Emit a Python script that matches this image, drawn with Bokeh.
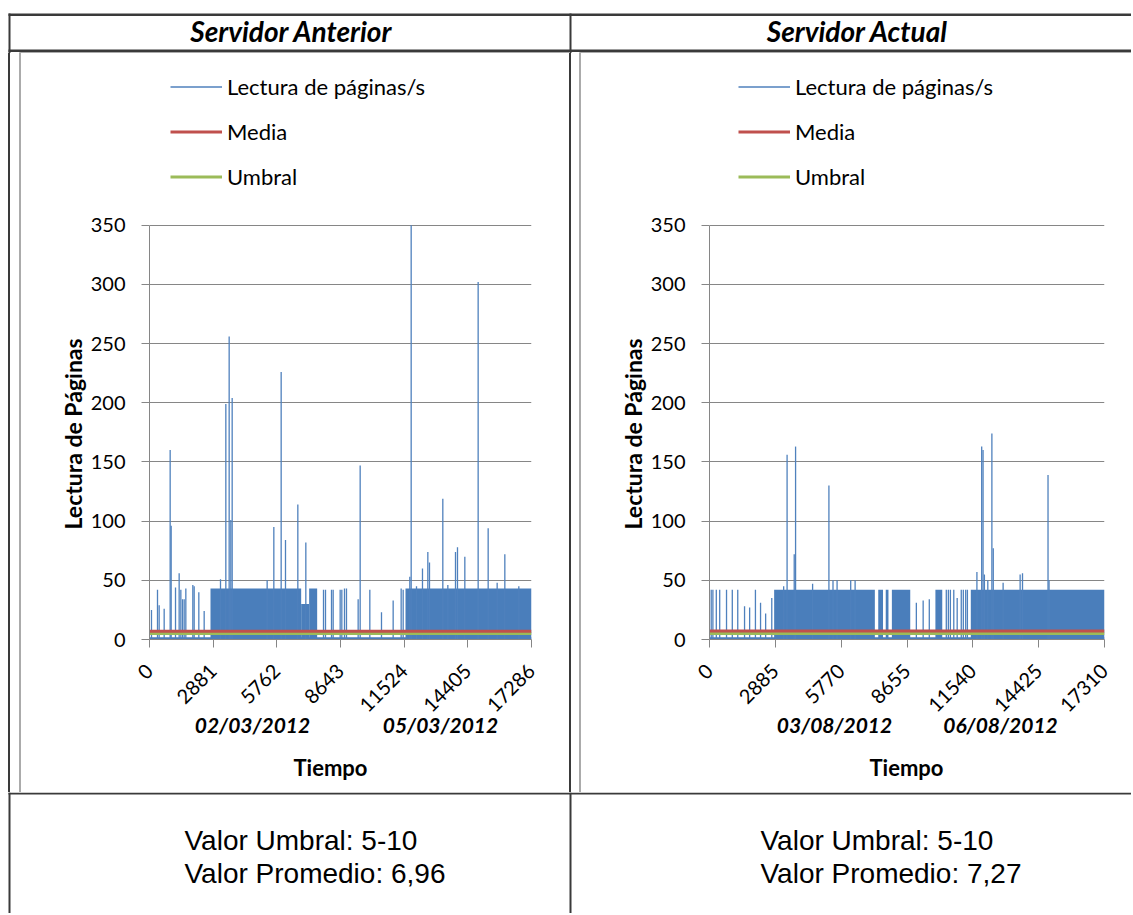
import math
from bokeh.plotting import figure
from bokeh.layouts import column, row
from bokeh.models import (Range1d, FixedTicker, Legend, LegendItem, LinearAxis, Spacer, Title)
from bokeh.core.properties import value
from bokeh.embed import file_html
from bokeh.resources import INLINE

# ---------------- data ----------------
titles = ["Servidor Anterior", "Servidor Actual"]
series_label = "Lectura de páginas/s"
mean_label = "Media"
umbral_label = "Umbral"
y_label = "Lectura de Páginas"
x_label = "Tiempo"
y_ticks = [0, 50, 100, 150, 200, 250, 300, 350]

# Servidor Anterior
ant_x_ticks = [0, 2881, 5762, 8643, 11524, 14405, 17286]
ant_dates = ["02/03/2012", "05/03/2012"]
ant_date_x = [4661, 13168]
ant_band_start = [2760, 6863, 7224, 11584]
ant_band_end = [6863, 7224, 7587, 17286]
ant_band_top = [43, 30, 43, 43]
ant_base_top = 2.0
ant_spike_x = [90, 362, 437, 664, 935, 980, 1177, 1342, 1418, 1493, 1569, 1644, 1961, 2021, 2232, 2474,
               3213, 3454, 3605, 3680, 3741, 5324, 5626, 5958, 6154, 6712, 7074,
               7874, 7964, 8236, 8311, 8628, 8703, 8824, 8914, 9442, 9533, 9970, 10498, 11026, 11388, 11479,
               11780, 11841, 12082, 12353, 12595, 12670, 13273, 13500, 13847, 13937, 14269, 14872, 15325,
               15732, 16079, 16712]
ant_spike_y = [25, 42, 29, 26, 160, 96, 44, 56, 42, 34, 34, 43, 46, 45, 40, 24,
               51, 199, 256, 101, 204, 50, 95, 226, 84, 114, 82,
               42, 42, 42, 42, 42, 42, 43, 43, 34, 147, 42, 23, 33, 43, 42,
               53, 350, 45, 60, 74, 65, 119, 46, 74, 78, 70, 302, 94, 48, 72, 45]
ant_mean = 6.96
ant_umbral = 5
ant_footer = ["Valor Umbral: 5-10", "Valor Promedio: 6,96"]

# Servidor Actual
act_x_ticks = [0, 2885, 5770, 8655, 11540, 14425, 17310]
act_dates = ["03/08/2012", "06/08/2012"]
act_date_x = [5478, 12752]
act_band_start = [2833, 7395, 7723, 7992, 9900, 11451]
act_band_end = [7246, 7604, 7843, 8797, 10200, 17310]
act_band_top = [42, 42, 42, 42, 42, 42]
act_base_top = 2.0
act_spike_x = [75, 149, 298, 447, 746, 999, 1238, 1536, 1759, 2013, 2237, 2460, 2729,
               3250, 3400, 3713, 3772, 4518, 5233, 5412, 5591, 6188, 6381,
               9065, 9363, 9632, 10377, 10467, 10556, 10705, 10854, 11033, 11123, 11227, 11302,
               11719, 11928, 11988, 12047, 12196, 12375, 12435, 12867, 13613, 13717, 14835, 14880]
act_spike_y = [42, 42, 42, 42, 42, 42, 42, 28, 27, 42, 31, 22, 35,
               45, 156, 72, 163, 47, 130, 50, 50, 50, 50,
               31, 33, 34, 42, 42, 42, 42, 35, 42, 42, 42, 42,
               57, 163, 160, 55, 50, 174, 77, 48, 55, 56, 139, 50]
act_mean = 7.27
act_umbral = 5
act_footer = ["Valor Umbral: 5-10", "Valor Promedio: 7,27"]

# ---------------- style / layout ----------------
DARK = "#3a3a3a"
GRAY_BORDER = "#ababab"
AXIS_GRAY = "#868686"
BLUE_FILL = "#4a7ebb"
BLUE_LINE = "#4f81bd"
RED = "#c0504d"
GREEN = "#9bbb59"
CAL = "Lato"

W = 1131
ROW_TOP, ROW_BOTTOM = 53, 792
ROW_H = ROW_BOTTOM - ROW_TOP
FRAME_TOP_PX, FRAME_BOTTOM_PX = 225, 640   # pixel rows of the 350 and 0 gridlines


def canvas(w, h, x0, x1, y0, y1):
    f = figure(width=w, height=h, x_range=Range1d(x0, x1), y_range=Range1d(y1, y0),
               output_backend="svg", toolbar_location=None, min_border=0,
               x_axis_location=None, y_axis_location=None)
    f.grid.visible = False
    f.outline_line_color = None
    f.background_fill_color = "white"
    f.border_fill_color = "white"
    return f


# header (page y 0..53)
hdr = canvas(W, ROW_TOP, 0, W, 0, ROW_TOP)
hdr.quad(left=[8, 8, 569, 8, 19, 579, 19, 579], right=[W, 10, 571, W, 569, W, 21, 581],
         top=[13, 13, 13, 49, 51.5, 51.5, 51.5, 51.5], bottom=[15.5, 53, 53, 51.5, 52.5, 52.5, 53, 53],
         fill_color=[DARK, DARK, DARK, DARK, GRAY_BORDER, GRAY_BORDER, GRAY_BORDER, GRAY_BORDER],
         line_color=None)
hdr.text(x=[291, 857], y=[30, 30], text=titles, text_align="center", text_baseline="middle",
         text_font=value(CAL), text_font_style="bold italic", text_font_size="28px", text_color="#000000")


def bar(w, color=None, h=ROW_H):
    if color is None:
        return Spacer(width=w, height=h)
    return Spacer(width=w, height=h, styles={"background-color": color})


def chart(width, min_left, min_right, x_ticks, band_s, band_e, band_t, base_top, sx, sy,
          mean, umbral, legend_x, dates, date_x, tiempo_offset):
    x_end = x_ticks[-1]
    y_top = y_ticks[-1] * (FRAME_BOTTOM_PX - ROW_TOP) / (FRAME_BOTTOM_PX - FRAME_TOP_PX)
    p = figure(width=width, height=ROW_H, x_range=Range1d(0, x_end), y_range=Range1d(0, y_top),
               output_backend="svg", toolbar_location=None,
               min_border_left=min_left, min_border_right=min_right,
               min_border_top=0, min_border_bottom=ROW_BOTTOM - FRAME_BOTTOM_PX)
    p.outline_line_color = None
    p.background_fill_color = "white"
    p.border_fill_color = "white"

    p.quad(left=[0], right=[x_end], bottom=[0], top=[base_top], fill_color=BLUE_FILL, line_color=None)
    p.quad(left=band_s, right=band_e, bottom=[0] * len(band_s), top=band_t,
           fill_color=BLUE_FILL, line_color=None)
    r_s = p.segment(x0=sx, y0=[0] * len(sx), x1=sx, y1=sy, line_color=BLUE_LINE, line_width=1.3)
    r_u = p.line(x=[0, x_end], y=[umbral, umbral], line_color=GREEN, line_width=3)
    r_m = p.line(x=[0, x_end], y=[mean, mean], line_color=RED, line_width=3)

    p.axis.axis_line_color = AXIS_GRAY
    p.axis.major_tick_line_color = AXIS_GRAY
    p.axis.major_tick_out = 8
    p.axis.major_tick_in = 0
    p.axis.minor_tick_line_color = None
    p.axis.major_label_text_font = CAL
    p.axis.major_label_text_font_size = "20px"
    p.axis.major_label_text_color = "#000000"
    p.xaxis.ticker = FixedTicker(ticks=x_ticks)
    p.yaxis.ticker = FixedTicker(ticks=y_ticks)
    p.yaxis.bounds = (y_ticks[0], y_ticks[-1])
    p.xaxis.major_label_orientation = math.pi / 4
    p.xaxis.major_label_standoff = 20
    p.yaxis.major_label_standoff = 16
    p.xgrid.visible = False
    p.ygrid.ticker = FixedTicker(ticks=y_ticks)
    p.ygrid.grid_line_color = AXIS_GRAY
    p.ygrid.grid_line_width = 1

    # vertical axis title, placed along the 0..350 part of the axis
    p.add_layout(Title(text=y_label, align="left", offset=FRAME_BOTTOM_PX - 530, standoff=1,
                       text_font=CAL, text_font_style="bold", text_font_size="23px",
                       text_color="#000000"), "left")

    # second axis below: dates
    dax = LinearAxis(ticker=FixedTicker(ticks=date_x),
                     major_label_overrides={dx: dt for dx, dt in zip(date_x, dates)},
                     axis_line_color=None, major_tick_line_color=None, minor_tick_line_color=None,
                     major_tick_out=0, major_tick_in=0, major_label_standoff=-10,
                     major_label_text_font=CAL, major_label_text_font_style="bold italic",
                     major_label_text_font_size="21px", major_label_text_color="#000000")
    p.add_layout(dax, "below")
    p.add_layout(Title(text=x_label, align="left", offset=tiempo_offset, standoff=24,
                       text_font=CAL, text_font_style="bold", text_font_size="22px",
                       text_color="#000000"), "below")

    leg = Legend(items=[LegendItem(label=value(series_label), renderers=[r_s]),
                        LegendItem(label=value(mean_label), renderers=[r_m]),
                        LegendItem(label=value(umbral_label), renderers=[r_u])],
                 location=(legend_x, FRAME_BOTTOM_PX - 191), orientation="vertical",
                 glyph_width=52, glyph_height=25, label_height=25, spacing=18,
                 padding=0, margin=0, border_line_color=None, background_fill_alpha=0,
                 label_text_font=CAL, label_text_font_size="22px", label_standoff=5,
                 label_text_color="#000000")
    p.add_layout(leg)
    return p


# left chart cell: x 21..569 (frame 149..531); right chart cell: x 581..W (frame 709..1104)
chartL = chart(548, 128, 38, ant_x_ticks, ant_band_start, ant_band_end, ant_band_top, ant_base_top,
               ant_spike_x, ant_spike_y, ant_mean, ant_umbral, 21, ant_dates, ant_date_x, 144)
chartR = chart(W - 581, 128, W - 1104, act_x_ticks, act_band_start, act_band_end, act_band_top,
               act_base_top, act_spike_x, act_spike_y, act_mean, act_umbral, 29, act_dates, act_date_x,
               160)

chart_row = row(bar(8), bar(2, DARK), bar(9), bar(2, GRAY_BORDER), chartL,
                bar(2, DARK), bar(8), bar(2, GRAY_BORDER), chartR)

# footer (page y 792..913)
FOOT_H = 121
ftr = canvas(W, FOOT_H, 0, W, ROW_BOTTOM, ROW_BOTTOM + FOOT_H)
ftr.quad(left=[8, 8, 569], right=[W, 10, 571], top=[792, 792, 792],
         bottom=[794, ROW_BOTTOM + FOOT_H, ROW_BOTTOM + FOOT_H],
         fill_color=DARK, line_color=None)
ftr.text(x=[184, 184, 760, 760], y=[840, 873, 840, 873],
         text=[ant_footer[0], ant_footer[1], act_footer[0], act_footer[1]],
         text_align="left", text_baseline="middle", text_font=value("Liberation Sans"),
         text_font_size="28px", text_color="#000000")

layout = column(hdr, chart_row, ftr)
open("out.html", "w").write(file_html(layout, INLINE))
